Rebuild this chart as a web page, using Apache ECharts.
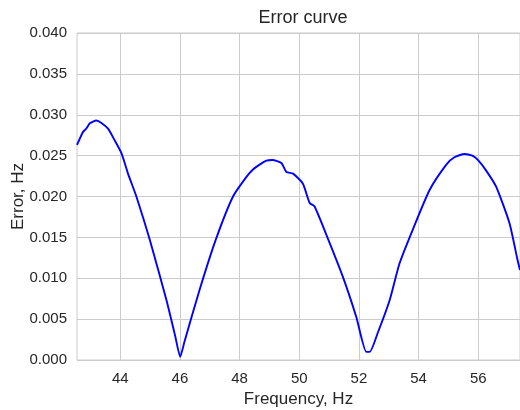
<!DOCTYPE html>
<html>
<head>
<meta charset="utf-8">
<script src="https://cdn.jsdelivr.net/npm/echarts@6/dist/echarts.min.js"></script>
<style>
html, body { margin: 0; padding: 0; background: #fff; }
#chart { width: 520px; height: 410px; }
</style>
</head>
<body>
<div id="chart"></div>
<script>
// frequency (Hz) and error (Hz)
var freqs = [42.55, 42.75, 42.86, 42.98, 43.2, 43.37, 43.59, 43.81, 44.04, 44.26, 44.54,
	44.99, 45.55, 45.85, 46.01, 46.15, 46.66, 47.2, 47.78, 48.23, 48.45, 48.67, 48.9, 49.1, 49.4, 49.57, 49.79,
	50.12, 50.35, 50.51, 50.9, 51.46, 51.91, 52.25, 52.36, 52.63, 53.03, 53.36, 53.8,
	54.37, 54.93, 55.2, 55.54, 55.8, 55.98, 56.26, 56.6, 57.05, 57.32, 57.4];
var errors = [0.0263, 0.0279, 0.0283, 0.02895, 0.0293, 0.0290, 0.0283, 0.0269, 0.0253, 0.0228, 0.0200,
	0.0147, 0.0073, 0.0028, 0.0004, 0.0022, 0.0086, 0.0147, 0.0200, 0.0224, 0.0233, 0.0239, 0.0244, 0.02446, 0.0241, 0.0230, 0.0228,
	0.0216, 0.0192, 0.0188, 0.0154, 0.0102, 0.0053, 0.0010, 0.0010, 0.0033, 0.0073, 0.0118, 0.0159,
	0.0208, 0.0239, 0.0248, 0.0252, 0.0250, 0.0245, 0.0232, 0.0212, 0.0167, 0.0122, 0.0110];
var xTicks = [44, 46, 48, 50, 52, 54, 56];

var points = [];
for (var i = 0; i < freqs.length; i++) {
	points.push([freqs[i], errors[i]]);
}

var font = 'Liberation Sans, Arial, sans-serif';
var textColor = '#262626';
var gridColor = '#cccccc';

var myChart = echarts.init(document.getElementById('chart'), null, { renderer: 'canvas' });
var option = {
	backgroundColor: '#fff',
	animation: false,
	title: {
		text: 'Error curve',
		left: 298,
		top: 4,
		textAlign: 'center',
		textStyle: { fontFamily: font, fontSize: 18, fontWeight: 'normal', color: textColor }
	},
	grid: {
		left: 77, top: 33, width: 443, height: 327,
		show: true, borderColor: gridColor, borderWidth: 1,
		containLabel: false,
		outerBoundsMode: 'none'
	},
	xAxis: {
		type: 'value',
		min: 42.55,
		max: 57.4,
		name: 'Frequency, Hz',
		nameLocation: 'middle',
		nameGap: 31,
		nameMoveOverlap: false,
		nameTextStyle: { fontFamily: font, fontSize: 17, color: textColor },
		axisLine: { show: false },
		axisTick: { show: false, customValues: xTicks },
		axisLabel: { customValues: xTicks, fontFamily: font, fontSize: 15, color: textColor, margin: 11 },
		splitLine: { show: true, lineStyle: { color: gridColor, width: 1 } }
	},
	yAxis: {
		type: 'value',
		min: 0,
		max: 0.04,
		interval: 0.005,
		name: 'Error, Hz',
		nameLocation: 'middle',
		nameGap: 50,
		nameMoveOverlap: false,
		nameTextStyle: { fontFamily: font, fontSize: 17, color: textColor },
		axisLine: { show: false },
		axisTick: { show: false },
		axisLabel: {
			fontFamily: font, fontSize: 15, color: textColor, margin: 10,
			formatter: function (v) { return v.toFixed(3); }
		},
		splitLine: { show: true, lineStyle: { color: gridColor, width: 1 } }
	},
	series: [{
		type: 'line',
		data: points,
		showSymbol: false,
		smooth: 0.2,
		lineStyle: { color: '#0000ff', width: 1.9 },
		itemStyle: { color: '#0000ff' }
	}]
};
myChart.setOption(option);
</script>
</body>
</html>
